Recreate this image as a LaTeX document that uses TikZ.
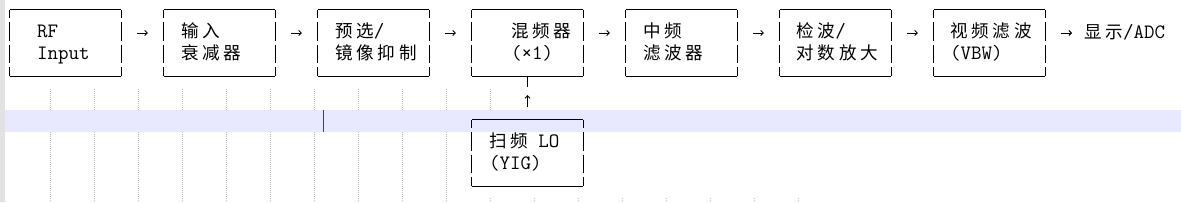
\documentclass[tikz,border=0pt]{standalone}
\usepackage{fontspec}
\newfontfamily\cjk{Noto Sans CJK SC}[Scale=0.86,LetterSpace=22]
\newcommand{\zh}[1]{{\cjk #1}}
\usetikzlibrary{arrows.meta}
\definecolor{bandblue}{RGB}{232,232,255}
\definecolor{guttergray}{RGB}{226,226,226}
\definecolor{guidegray}{RGB}{190,190,190}
\definecolor{caretviolet}{RGB}{128,0,255}
\tikzset{
  stage/.style={rectangle, minimum width=111pt, minimum height=66pt, inner sep=0pt},
  rule/.style={line width=1.1pt, black},
  side/.style={rule, dash pattern=on 8.5pt off 4pt on 19pt off 3.5pt on 18.5pt off 3.5pt on 9pt off 10pt},
  lbl/.style={anchor=base west, inner sep=0pt, font=\fontsize{20.4}{22}\selectfont\ttfamily},
  flow/.style={-{Straight Barb[length=2.5pt,width=5pt]}, line width=0.9pt, shorten <=16pt, shorten >=16pt},
  guide/.style={guidegray, line width=1pt, dash pattern=on 1pt off 1pt},
}
\begin{document}
\begin{tikzpicture}[x=1pt, y=1pt]
  \useasboundingbox (0,0) rectangle (1181,-202);
  \fill[bandblue] (0,-110) rectangle (1181,-132);
  \fill[guttergray] (0,0) rectangle (5,-202);
  \foreach \k in {0,...,10} \draw[guide] ({50.5+44*\k},-89) -- ++(0,-21);
  \foreach \k in {0,...,9} \draw[guide] ({50.5+44*\k},-132) -- ++(0,-70);
  \foreach \k in {10,...,17} \draw[guide] ({50.5+44*\k},-198) -- ++(0,-4);
  \draw[caretviolet, line width=1.3pt] (323.5,-110) -- (323.5,-132);

  \foreach \k in {1,...,7} \node[stage] (b\k) at ({65.5+154*(\k-1)},-43) {};
  \node[stage] (lo) at (527.5,-153) {};
  \foreach \s in {b1,b2,b3,b4,b5,b6,b7,lo} {
    \draw[rule] (\s.north west) -- (\s.north east);
    \draw[rule] (\s.south west) -- (\s.south east);
    \draw[side] (\s.north west) -- (\s.south west);
    \draw[side] (\s.north east) -- (\s.south east);
  }

  \foreach \s/\dx/\one/\two in {b1/27/RF/Input, b2/17/{\zh{输入}}/{\zh{衰减器}},
      b3/17/{\zh{预选}/}/{\zh{镜像抑制}}, b4/39/{\zh{混频器}}/{(×1)},
      b5/17/{\zh{中频}}/{\zh{滤波器}}, b6/16.5/{\zh{检波}/}/{\zh{对数放大}},
      b7/16/{\zh{视频滤波}}/{(VBW)}, lo/17/{\zh{扫频} LO}/{(YIG)}} {
    \node[lbl] (\s-one) at ([xshift=\dx pt, yshift=-28pt]\s.north west) {\one};
    \node[lbl] (\s-two) at ([xshift=\dx pt, yshift=-50pt]\s.north west) {\two};
  }
  \node[lbl] (disp) at (1084,-38) {\zh{显示}/ADC};

  \foreach \k [remember=\k as \p (initially 1)] in {2,...,7}
    \draw[flow] ([yshift=10pt]b\p.east) -- ([yshift=10pt]b\k.west);
  \coordinate (d7) at ([yshift=10pt]b7.east);
  \draw[flow, shorten >=12pt] (d7) -- (d7 -| disp.west);

  \coordinate (stem) at ([yshift=-11pt]b4.south);
  \draw[rule] (b4.south) -- (stem);
  \draw[flow, shorten <=13pt, shorten >=8pt] (lo.north) -- (stem);
\end{tikzpicture}
\end{document}
